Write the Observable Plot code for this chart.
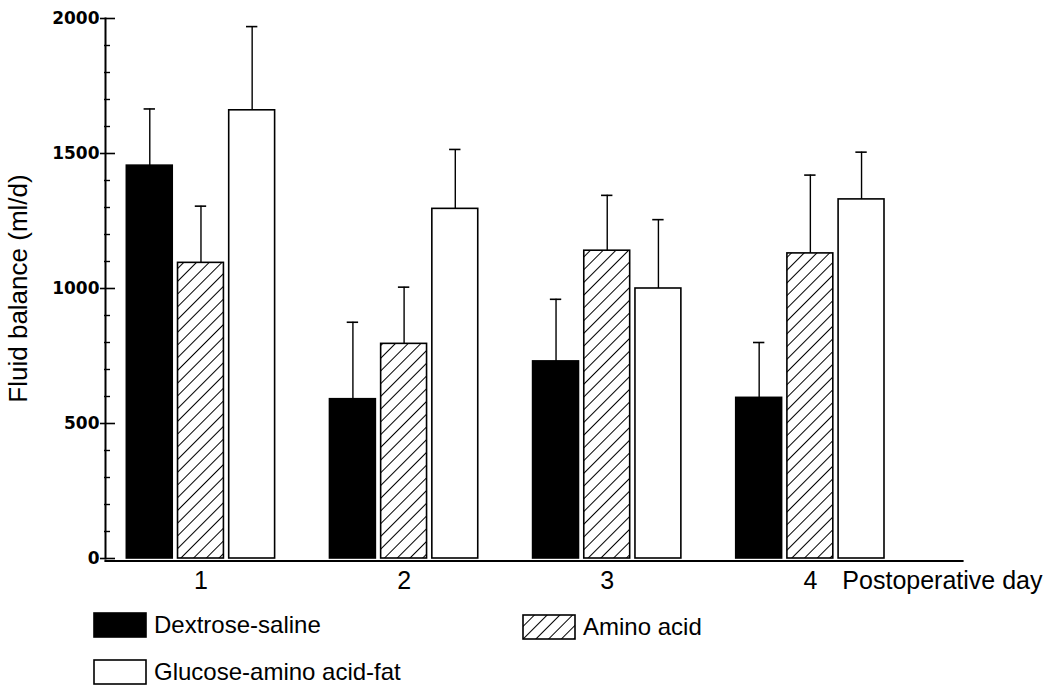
<!DOCTYPE html>
<html>
<head>
<meta charset="utf-8">
<script src="https://cdn.jsdelivr.net/npm/d3@7"></script>
<script src="https://cdn.jsdelivr.net/npm/@observablehq/plot@0.6"></script>
<style>
  body { margin: 0; background: #fff; }
  #chart { position: relative; width: 1053px; font-family: "Liberation Sans", Arial, sans-serif; color: #000; }
  .legend { position: relative; height: 89px; }
  .item { position: absolute; display: flex; align-items: center; font-size: 24px; white-space: nowrap; }
  .item svg { margin-right: 7px; }
</style>
</head>
<body>
<div id="chart"></div>
<script>
// Postoperative fluid balance (ml/d), mean with upper SD bar
const days = [1, 2, 3, 4];
const seriesNames = ["Dextrose-saline", "Amino acid", "Glucose-amino acid-fat"];
const dextroseMean = [1455, 590, 730, 595];
const dextroseSD = [210, 285, 230, 205];
const aminoMean = [1095, 795, 1140, 1130];
const aminoSD = [210, 210, 205, 290];
const glucoseMean = [1660, 1295, 1000, 1330];
const glucoseSD = [310, 220, 255, 175];
const yTicks = [0, 500, 1000, 1500, 2000];
const yMinorTicks = [100, 200, 300, 400, 600, 700, 800, 900, 1100, 1200, 1300, 1400, 1600, 1700, 1800, 1900];
const xLabel = "Postoperative day";
const yLabel = "Fluid balance (ml/d)";

const rows = [];
[[dextroseMean, dextroseSD], [aminoMean, aminoSD], [glucoseMean, glucoseSD]].forEach(([m, s], k) =>
  days.forEach((day, j) => rows.push({day, series: seriesNames[k], k, mean: m[j], sd: s[j]}))
);

// bar placement inside each day group, in day units
const xDomain = [0.53, 4.749];
const yDomain = [0, 2000];
const slot = 0.252, half = 0.113, cap = 0.028;
const cx = d => d.day + (d.k - 1) * slot;
const fills = ["black", "url(#hatch)", "white"];

const plot = Plot.plot({
  width: 1053,
  height: 600,
  marginLeft: 105,
  marginRight: 91,
  marginTop: 18,
  marginBottom: 42,
  style: {fontFamily: "Liberation Sans, Arial, sans-serif", background: "white", color: "black"},
  x: {domain: xDomain, axis: null},
  y: {domain: yDomain, axis: null},
  marks: [
    ...seriesNames.map((name, k) => Plot.rect(rows.filter(d => d.k === k), {
      x1: d => cx(d) - half,
      x2: d => cx(d) + half,
      y1: 0,
      y2: "mean",
      fill: fills[k],
      stroke: "black",
      strokeWidth: 1.6
    })),
    Plot.ruleX(rows, {x: cx, y1: "mean", y2: d => d.mean + d.sd, stroke: "black", strokeWidth: 1.4}),
    Plot.ruleY(rows, {y: d => d.mean + d.sd, x1: d => cx(d) - cap, x2: d => cx(d) + cap, stroke: "black", strokeWidth: 1.6}),
    Plot.frame({anchor: "left", stroke: "black", strokeWidth: 2}),
    Plot.frame({anchor: "bottom", stroke: "black", strokeWidth: 2.2, dy: 2.5}),
    Plot.axisY({ticks: yTicks, tickFormat: d => String(d), tickSize: 15, dx: 10, tickPadding: 1, fontSize: 17,
      fontFamily: "DejaVu Sans", fontWeight: "bold", label: null, strokeWidth: 1.6}),
    Plot.axisY({ticks: yMinorTicks, tickSize: 6, dx: 5, fill: "none", label: null, strokeWidth: 1.4}),
    Plot.axisX({ticks: days, tickFormat: d => String(d), tickSize: 0, tickPadding: 13, fontSize: 25, label: null}),
    Plot.text([{day: days[days.length - 1], label: xLabel}], {
      x: "day", text: "label", frameAnchor: "bottom", lineAnchor: "top",
      textAnchor: "start", dy: 13, dx: 32, fontSize: 25
    }),
    Plot.text([yLabel], {text: d => d, x: xDomain[0], y: (yDomain[0] + yDomain[1]) / 2,
      rotate: -90, dx: -87, fontSize: 26})
  ]
});

// diagonal hatching used by the amino acid bars and key
d3.select(plot).insert("defs", ":first-child").html(
  `<pattern id="hatch" patternUnits="userSpaceOnUse" width="9" height="9" patternTransform="rotate(45)">
     <rect width="9" height="9" fill="white"/>
     <line x1="0" y1="0" x2="0" y2="9" stroke="black" stroke-width="2"/>
   </pattern>`
);

const chart = document.getElementById("chart");
chart.appendChild(plot);

// key below the plot
const legend = d3.select(chart).append("div").attr("class", "legend");
const keyPos = [{left: 93, top: 11}, {left: 522, top: 13}, {left: 93, top: 58}];
seriesNames.forEach((name, k) => {
  const item = legend.append("div").attr("class", "item")
    .style("left", keyPos[k].left + "px").style("top", keyPos[k].top + "px");
  const sw = item.append("svg").attr("width", 54).attr("height", 26);
  sw.append("rect").attr("x", 1).attr("y", 1).attr("width", 52).attr("height", 24)
    .attr("fill", fills[k]).attr("stroke", "black").attr("stroke-width", 1.6);
  item.append("span").text(name);
});
</script>
</body>
</html>
